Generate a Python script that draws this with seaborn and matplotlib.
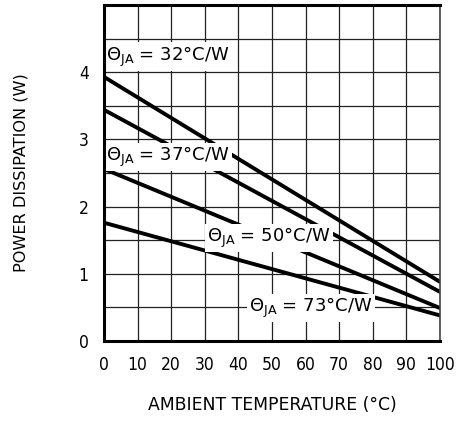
import pandas as pd
import matplotlib
matplotlib.use("Agg")
import matplotlib.pyplot as plt
import seaborn as sns

# Data (line endpoints at 0 and 100 degC)
temps = [0, 100]
theta_ja = [32, 37, 50, 73]
power_at_0 = [3.93, 3.44, 2.56, 1.76]
power_at_100 = [0.88, 0.73, 0.49, 0.38]

x_ticks = [0, 10, 20, 30, 40, 50, 60, 70, 80, 90, 100]
y_ticks = [0, 1, 2, 3, 4]

# label anchor points (x, y) in data units
label_x = [0.6, 0.6, 30.8, 43.3]
label_y = [4.23, 2.74, 1.53, 0.49]

rows = []
for th, p0, p100 in zip(theta_ja, power_at_0, power_at_100):
    for t, p in zip(temps, [p0, p100]):
        rows.append({"Temp": t, "Power": p, "Theta": th})
df = pd.DataFrame(rows)

sns.set_style("white")
plt.rcParams["font.family"] = ["DejaVu Sans"]
plt.rcParams["text.color"] = "black"
plt.rcParams["axes.labelcolor"] = "black"
plt.rcParams["xtick.color"] = "black"
plt.rcParams["ytick.color"] = "black"
plt.rcParams["mathtext.fontset"] = "dejavusans"

fig = plt.figure(figsize=(4.61, 4.23), dpi=100)
ax = fig.add_axes([0.2256, 0.1939, 0.9544 - 0.2256, 0.9882 - 0.1939])

sns.lineplot(
    data=df,
    x="Temp",
    y="Power",
    hue="Theta",
    palette=["black"] * 4,
    linewidth=2.8,
    legend=False,
    ax=ax,
    zorder=2
)

# Grid every 10 degC / 0.5 W
ax.set_xticks(x_ticks)
ax.set_yticks(y_ticks)
ax.set_yticks([v + 0.5 for v in y_ticks], minor=True)
ax.grid(True, which="both", color="#222222", linewidth=0.9)
ax.set_axisbelow(True)

ax.set_xlim(0, 100)
ax.set_ylim(0, 5)
ax.tick_params(which="both", length=0, labelsize=12.5, pad=11)
for lbl in ax.get_xticklabels() + ax.get_yticklabels():
    lbl.set_fontstretch("condensed")

for name, s in ax.spines.items():
    s.set_visible(True)
    s.set_color("black" if name != "right" else "#444444")
    s.set_zorder(10)
    s.set_linewidth(2.2 if name != "right" else 1.2)

for th, lx, ly in zip(theta_ja, label_x, label_y):
    ax.text(
        lx, ly, r"$\Theta_{\mathrm{JA}}$ = " + f"{th}°C/W",
        fontsize=13, ha="left", va="center", zorder=5,
        bbox=dict(facecolor="white", edgecolor="none", pad=1.5)
    )

ax.set_xlabel("AMBIENT TEMPERATURE (°C)", fontsize=12.4, labelpad=16)
ax.set_ylabel("POWER DISSIPATION (W)", fontsize=11.6, labelpad=36)

plt.savefig("out.png", dpi=100)
